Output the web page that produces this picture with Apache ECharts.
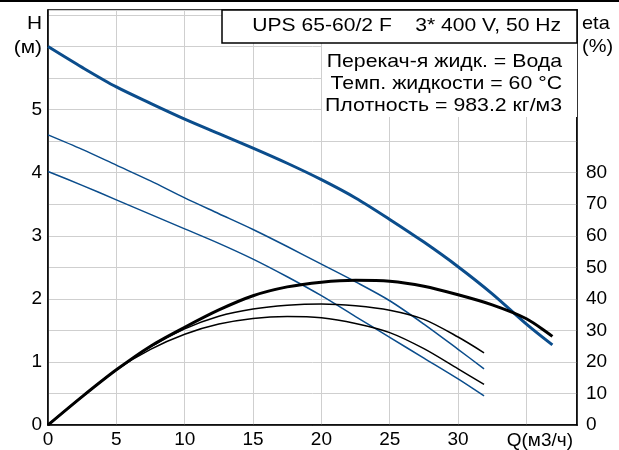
<!DOCTYPE html>
<html>
<head>
<meta charset="utf-8">
<script src="https://cdn.jsdelivr.net/npm/echarts@6/dist/echarts.min.js"></script>
<style>
html,body{margin:0;padding:0;background:#fff;}
#chart{width:619px;height:450px;}
</style>
</head>
<body>
<div id="chart"></div>
<script>
// Flow Q (м3/ч) sample points
var qFull = [0, 2.5, 5, 7.5, 10, 12.5, 15, 17.5, 20, 22.5, 25, 27.5, 30, 32.5, 35, 36.9];
var qPart = [0, 2.5, 5, 7.5, 10, 12.5, 15, 17.5, 20, 22.5, 25, 27.5, 30, 31.9];
// Head H (м)
var headMax = [6.0, 5.67, 5.36, 5.1, 4.85, 4.62, 4.39, 4.15, 3.89, 3.6, 3.26, 2.9, 2.51, 2.08, 1.6, 1.27];
var headMid = [4.6, 4.37, 4.12, 3.87, 3.6, 3.35, 3.1, 2.83, 2.55, 2.27, 1.97, 1.6, 1.2, 0.89];
var headMin = [4.02, 3.8, 3.57, 3.34, 3.11, 2.88, 2.63, 2.35, 2.05, 1.72, 1.39, 1.06, 0.73, 0.46];
// Efficiency eta (%)
var etaMax = [0, 9, 17.5, 25, 31, 36.5, 41, 43.8, 45.3, 45.9, 45.6, 44.0, 41.3, 38.1, 33.7, 28.1];
var etaMid = [0, 9, 17.5, 24.8, 30.5, 34.5, 36.8, 38, 38.4, 37.8, 36.4, 33.5, 27.9, 22.9];
var etaMin = [0, 9, 17.5, 24, 28.8, 32, 33.8, 34.4, 34.0, 32.2, 29.3, 24.2, 17.8, 12.9];
// Tick labels
var xTicks = [0, 5, 10, 15, 20, 25, 30];
var hTicks = [0, 1, 2, 3, 4, 5];
var etaTicks = [0, 10, 20, 30, 40, 50, 60, 70, 80];
var titleText = 'UPS 65-60/2 F    3* 400 V, 50 Hz';
var infoLines = ['Перекач-я жидк. = Вода', 'Темп. жидкости = 60 °C', 'Плотность = 983.2 кг/м3'];

function pairs(xs, ys) { return xs.map(function (x, i) { return [x, ys[i]]; }); }

var FONT = '"Liberation Sans", Arial, sans-serif';
var BLUE = '#0b4d8c';
var chart = echarts.init(document.getElementById('chart'));

function txt(t, x, y, align, size, sx) {
  return { type: 'text', x: x, y: y, z: 100, scaleX: sx || 1,
    style: { text: t, fill: '#000', font: size + 'px ' + FONT, textAlign: align, textVerticalAlign: 'middle', align: align, verticalAlign: 'middle' } };
}

var graphics = [
  { type: 'rect', shape: { x: 0, y: 0, width: 619, height: 2 }, style: { fill: '#000' }, z: 100 },
  { type: 'rect', shape: { x: 322, y: 43, width: 255, height: 74 }, style: { fill: '#fff' }, z: 90 },
  { type: 'rect', shape: { x: 222, y: 10, width: 355, height: 33 }, style: { fill: '#fff', stroke: '#000', lineWidth: 1.5 }, z: 95 },
  txt(titleText, 561, 26, 'right', 18.5, 1.14),
  txt('H', 42, 24, 'right', 19, 1.1),
  txt('(м)', 42, 48, 'right', 19, 1.1),
  txt('eta', 582, 24, 'left', 19, 1.05),
  txt('(%)', 582, 47, 'left', 19, 1.05)
];
infoLines.forEach(function (t, i) { graphics.push(txt(t, 562, 62 + i * 22, 'right', 18.5, 1.15)); });

function ser(axis, xs, ys, color, width) {
  return { type: 'line', smooth: 0.3, showSymbol: false, yAxisIndex: axis, data: pairs(xs, ys), lineStyle: { color: color, width: width } };
}

chart.setOption({
  animation: false,
  backgroundColor: '#fff',
  textStyle: { fontFamily: FONT },
  grid: { left: 48, right: 42, top: 10, bottom: 24, show: true, borderColor: '#000', borderWidth: 1.5 },
  xAxis: {
    type: 'value', min: 0, max: 38.7, interval: 5,
    name: 'Q(м3/ч)', nameLocation: 'end', nameGap: 0,
    nameTextStyle: { fontSize: 19, color: '#000', align: 'right', verticalAlign: 'top', padding: [6, 4, 0, 0], fontFamily: FONT },
    axisLine: { show: true, lineStyle: { color: '#000', width: 1.5 } },
    axisTick: { show: false },
    axisLabel: { fontSize: 19, color: '#000', margin: 5, showMaxLabel: false, fontFamily: FONT,
      formatter: function (v) { return xTicks.indexOf(v) >= 0 ? String(v) : ''; } },
    splitLine: { show: true, lineStyle: { color: '#cfcfcf', width: 1 } }
  },
  yAxis: [
    {
      type: 'value', min: 0, max: 6.58, interval: 0.5, position: 'left',
      axisLine: { show: true, lineStyle: { color: '#000', width: 1.5 } },
      axisTick: { show: false },
      axisLabel: { fontSize: 19, color: '#000', margin: 6, showMaxLabel: false, fontFamily: FONT,
        formatter: function (v) { return hTicks.indexOf(v) >= 0 ? String(v) : ''; } },
      splitLine: { show: true, lineStyle: { color: '#cfcfcf', width: 1 } }
    },
    {
      type: 'value', min: 0, max: 131.6, interval: 10, position: 'right',
      axisLine: { show: true, lineStyle: { color: '#000', width: 1.5 } },
      axisTick: { show: false },
      axisLabel: { fontSize: 19, color: '#000', margin: 9, showMaxLabel: false, fontFamily: FONT,
        formatter: function (v) { return etaTicks.indexOf(v) >= 0 ? String(v) : ''; } },
      splitLine: { show: false }
    }
  ],
  series: [
    ser(0, qFull, headMax, BLUE, 3),
    ser(0, qPart, headMid, BLUE, 1.5),
    ser(0, qPart, headMin, BLUE, 1.5),
    ser(1, qFull, etaMax, '#000', 3),
    ser(1, qPart, etaMid, '#000', 1.5),
    ser(1, qPart, etaMin, '#000', 1.5)
  ],
  graphic: graphics
});
</script>
</body>
</html>
